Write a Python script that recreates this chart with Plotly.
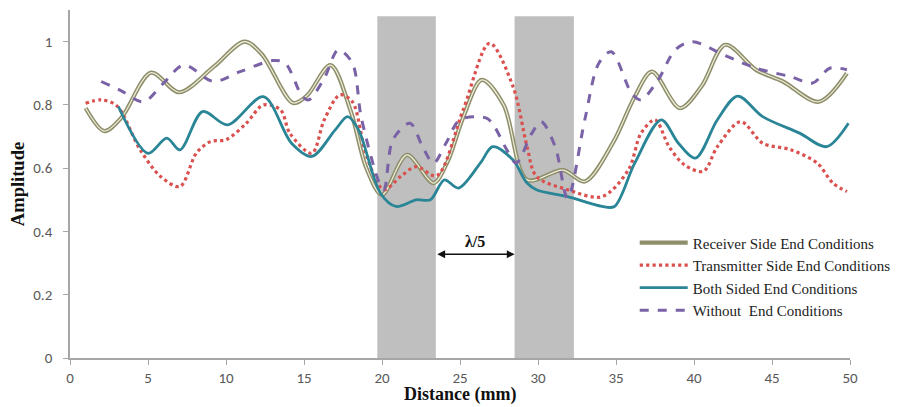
import plotly.graph_objects as go

# Receiver Side End Conditions
rx_x = [1.0, 2.2, 3.3, 5.2, 7.0, 9.2, 11.2, 12.3, 14.3, 15.2, 16.7, 18.0, 19.0, 20.0, 21.6, 23.3, 24.2, 25.2, 26.4, 27.8, 29.3, 31.6, 33.0, 34.8, 36.2, 37.3, 39.1, 40.5, 42.0, 44.0, 45.7, 48.0, 49.8]
rx_y = [0.79, 0.717, 0.76, 0.902, 0.84, 0.92, 1.0, 0.96, 0.806, 0.83, 0.926, 0.78, 0.60, 0.516, 0.642, 0.553, 0.62, 0.76, 0.879, 0.80, 0.563, 0.594, 0.558, 0.68, 0.826, 0.905, 0.79, 0.86, 0.99, 0.91, 0.874, 0.81, 0.90]

# Transmitter Side End Conditions
tx_x = [1.0, 2.0, 3.0, 4.5, 5.8, 7.05, 8.1, 9.0, 10.0, 11.3, 12.4, 13.5, 14.1, 15.5, 16.3, 17.3, 18.1, 19.0, 20.1, 21.2, 22.2, 23.5, 25.2, 26.9, 28.4, 29.3, 29.9, 31.9, 34.1, 35.8, 36.6, 37.5, 38.4, 39.4, 40.6, 41.5, 43.0, 44.4, 46.2, 47.9, 48.9, 49.8]
tx_y = [0.805, 0.816, 0.797, 0.658, 0.574, 0.542, 0.648, 0.684, 0.69, 0.742, 0.80, 0.784, 0.71, 0.647, 0.753, 0.832, 0.81, 0.64, 0.532, 0.574, 0.605, 0.576, 0.784, 0.995, 0.858, 0.668, 0.574, 0.532, 0.51, 0.595, 0.71, 0.753, 0.668, 0.61, 0.59, 0.668, 0.747, 0.679, 0.658, 0.616, 0.553, 0.526]

# Both Sided End Conditions
bx_x = [3.1, 5.0, 6.2, 7.05, 8.5, 10.1, 12.4, 14.2, 15.5, 17.0, 17.8, 18.5, 19.9, 20.9, 22.2, 23.1, 24.0, 24.9, 26.3, 27.1, 28.4, 29.3, 29.9, 31.9, 34.1, 34.9, 36.2, 37.9, 39.0, 40.1, 41.5, 42.8, 44.4, 46.8, 48.5, 49.9]
bx_y = [0.795, 0.647, 0.695, 0.658, 0.779, 0.737, 0.826, 0.679, 0.637, 0.721, 0.763, 0.721, 0.521, 0.479, 0.50, 0.50, 0.563, 0.537, 0.616, 0.668, 0.626, 0.553, 0.532, 0.51, 0.479, 0.479, 0.616, 0.753, 0.679, 0.632, 0.753, 0.828, 0.763, 0.71, 0.668, 0.742]

# Without End Conditions
wx_x = [2.0, 3.2, 4.7, 6.0, 7.3, 9.2, 10.9, 13.0, 13.8, 14.9, 15.3, 16.3, 17.2, 18.1, 18.7, 20.1, 20.7, 21.8, 22.6, 23.3, 24.1, 25.0, 26.7, 27.2, 28.0, 28.6, 29.6, 30.2, 31.1, 31.9, 33.0, 33.9, 34.7, 36.0, 36.6, 37.7, 38.8, 39.9, 41.9, 44.0, 46.2, 47.6, 48.7, 49.8]
wx_y = [0.874, 0.847, 0.81, 0.869, 0.926, 0.874, 0.905, 0.94, 0.932, 0.826, 0.816, 0.884, 0.974, 0.932, 0.753, 0.532, 0.69, 0.742, 0.668, 0.616, 0.679, 0.753, 0.758, 0.732, 0.658, 0.616, 0.71, 0.747, 0.668, 0.505, 0.753, 0.932, 0.968, 0.837, 0.816, 0.879, 0.974, 1.0, 0.958, 0.916, 0.889, 0.869, 0.916, 0.911]

x_ticks = [0, 5, 10, 15, 20, 25, 30, 35, 40, 45, 50]
y_ticks = [0, 0.2, 0.4, 0.6, 0.8, 1]
bands = [(19.7, 23.45), (28.5, 32.3)]

serif = "Liberation Serif"
sans = "Carlito, Liberation Sans, Arial, sans-serif"

fig = go.Figure()

fig.add_trace(go.Scatter(x=rx_x, y=rx_y, mode="lines", name="Receiver Side End Conditions",
                         line=dict(color="#8e8e6a", width=4.2, shape="spline", smoothing=0.9),
                         legendgroup="rx"))
fig.add_trace(go.Scatter(x=rx_x, y=rx_y, mode="lines", showlegend=False, hoverinfo="skip",
                         line=dict(color="#eeeedc", width=1.2, shape="spline", smoothing=0.9),
                         legendgroup="rx"))
fig.add_trace(go.Scatter(x=tx_x, y=tx_y, mode="lines", name="Transmitter Side End Conditions",
                         line=dict(color="#d9504e", width=3.2, dash="dot", shape="spline", smoothing=0.9)))
fig.add_trace(go.Scatter(x=bx_x, y=bx_y, mode="lines", name="Both Sided End Conditions",
                         line=dict(color="#2a8596", width=2.8, shape="spline", smoothing=0.9)))
fig.add_trace(go.Scatter(x=wx_x, y=wx_y, mode="lines", name="Without  End Conditions",
                         line=dict(color="#7a62a6", width=3, dash="dash", shape="spline", smoothing=0.9)))

shapes = []
for a, b in bands:
    shapes.append(dict(type="rect", xref="x", yref="y", x0=a, x1=b, y0=0, y1=1.08,
                       fillcolor="#bfbfbf", line=dict(width=0), layer="below"))

annotations = [
    dict(x=bands[1][0], y=0.328, ax=bands[0][1], ay=0.328, xref="x", yref="y", axref="x", ayref="y",
         text="", showarrow=True, arrowhead=2, startarrowhead=2, arrowside="end+start",
         arrowsize=1.2, arrowwidth=1.3, arrowcolor="#111111", startstandoff=0, standoff=0),
    dict(x=(bands[0][1] + bands[1][0]) / 2, y=0.368, xref="x", yref="y", text="<b>λ/5</b>",
         showarrow=False, font=dict(family=serif, size=16, color="#111111")),
    dict(x=0.5, y=-0.106, xref="paper", yref="paper", xanchor="center", yanchor="middle",
         text="<b>Distance (mm)</b>", showarrow=False, borderpad=0,
         font=dict(family=serif, size=18, color="#111111")),
]

fig.update_layout(
    width=901, height=399,
    margin=dict(l=62, r=59, t=2, b=49, autoexpand=False),
    paper_bgcolor="white", plot_bgcolor="white",
    shapes=shapes, annotations=annotations,
    showlegend=True,
    legend=dict(x=0.724, y=0.378, xanchor="left", yanchor="top",
                font=dict(family=serif, size=15, color="#222222"),
                bgcolor="rgba(0,0,0,0)", tracegroupgap=0, itemwidth=48),
    xaxis=dict(range=[0, 50], tickvals=x_ticks, showgrid=False, zeroline=False, automargin=False,
               showline=True, linecolor="#a6a6a6", linewidth=1.5,
               ticks="outside", ticklen=5, tickcolor="#a6a6a6", ticklabelstandoff=0,
               tickfont=dict(family=sans, size=15, color="#595959")),
    yaxis=dict(range=[0, 1.1], tickvals=y_ticks, ticktext=["0", "0.2", "0.4", "0.6", "0.8", "1"],
               showgrid=False, zeroline=False, automargin=False,
               showline=True, linecolor="#a6a6a6", linewidth=1.5,
               ticks="outside", ticklen=5, tickcolor="#a6a6a6", ticklabelstandoff=8,
               tickfont=dict(family=sans, size=15, color="#595959"),
               title=dict(text="<b>Amplitude</b>", font=dict(family=serif, size=18.5, color="#111111"), standoff=9)),
)

fig.write_html("out.html")
